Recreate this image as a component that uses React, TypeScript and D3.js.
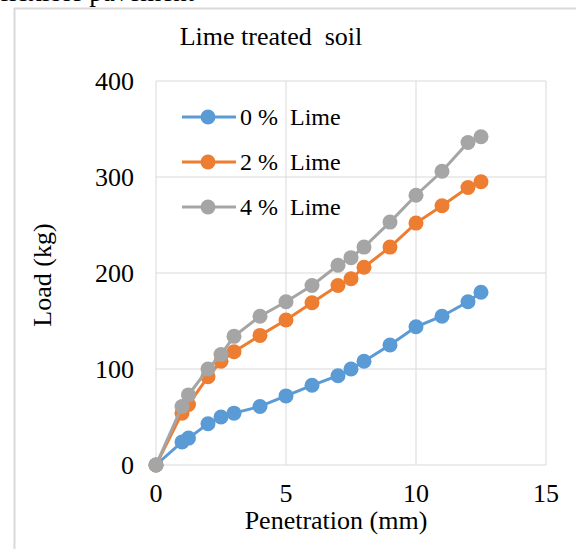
import React from "react";
import * as d3 from "d3";

const penetration = [0, 1, 1.25, 2, 2.5, 3, 4, 5, 6, 7, 7.5, 8, 9, 10, 11, 12, 12.5];
const lime0 = [0, 24, 28, 43, 50, 54, 61, 72, 83, 93, 100, 108, 125, 144, 155, 170, 180];
const lime2 = [0, 54, 63, 92, 108, 118, 135, 151, 169, 187, 194, 206, 227, 252, 270, 289, 295];
const lime4 = [0, 61, 73, 100, 115, 134, 155, 170, 187, 208, 216, 227, 253, 281, 306, 336, 342];
const seriesNames = ["0 %  Lime", "2 %  Lime", "4 %  Lime"];
const colors = ["#5B9BD5", "#ED7D31", "#A5A5A5"];
const xTicks = [0, 5, 10, 15];
const yTicks = [0, 100, 200, 300, 400];

export default function App() {
  const W = 576, H = 549;
  const x = d3.scaleLinear().domain([0, 15]).range([156, 546]);
  const y = d3.scaleLinear().domain([0, 400]).range([465, 81]);
  const all = [lime0, lime2, lime4];
  const line = d3.line<number>().x((_, i) => x(penetration[i])).y((d) => y(d));
  const font = "'Liberation Serif', 'Times New Roman', serif";
  const fs = 26;
  return (
    <svg width={W} height={H} style={{ position: "absolute", left: 0, top: 0, background: "#fff" }} fontFamily={font}>
      <text x={0} y={1} fontSize={27} fill="#000">flexible pavement</text>
      <line x1={14.5} y1={8} x2={14.5} y2={H} stroke="#d9d9d9" strokeWidth={2} />
      <line x1={14} y1={8.5} x2={W} y2={8.5} stroke="#d9d9d9" strokeWidth={2} />
      <text x={271} y={45} fontSize={fs} textAnchor="middle" style={{ whiteSpace: "pre" }}>Lime treated  soil</text>
      {xTicks.map((t) => (
        <line key={"gx" + t} x1={x(t)} x2={x(t)} y1={y(0)} y2={y(400)} stroke="#d9d9d9" strokeWidth={1} />
      ))}
      {yTicks.map((t) => (
        <line key={"gy" + t} x1={x(0)} x2={x(15)} y1={y(t)} y2={y(t)} stroke="#d9d9d9" strokeWidth={1} />
      ))}
      {yTicks.map((t) => (
        <text key={"ty" + t} x={134} y={y(t) + 9} fontSize={fs} textAnchor="end">{t}</text>
      ))}
      {xTicks.map((t) => (
        <text key={"tx" + t} x={x(t)} y={502} fontSize={fs} textAnchor="middle">{t}</text>
      ))}
      <text x={336} y={529} fontSize={fs} textAnchor="middle">Penetration (mm)</text>
      <text transform={`translate(51,275) rotate(-90)`} fontSize={fs} textAnchor="middle">Load (kg)</text>
      {all.map((s, k) => (
        <g key={"s" + k}>
          <path d={line(s) || ""} fill="none" stroke={colors[k]} strokeWidth={3} />
          {s.map((v, i) => (
            <circle key={i} cx={x(penetration[i])} cy={y(v)} r={7.5} fill={colors[k]} />
          ))}
        </g>
      ))}
      {seriesNames.map((n, k) => {
        const ly = 117 + k * 45;
        return (
          <g key={"l" + k}>
            <line x1={182} x2={236} y1={ly} y2={ly} stroke={colors[k]} strokeWidth={3} />
            <circle cx={208} cy={ly} r={7.5} fill={colors[k]} />
            <text x={240} y={ly + 8} fontSize={24} style={{ whiteSpace: "pre" }}>{n}</text>
          </g>
        );
      })}
    </svg>
  );
}
